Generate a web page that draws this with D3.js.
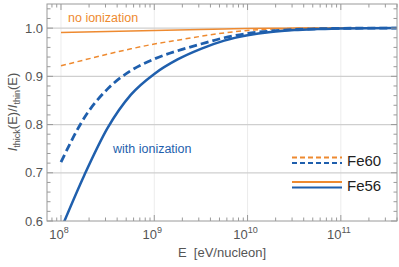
<!DOCTYPE html>
<html>
<head>
<meta charset="utf-8">
<script src="https://cdn.jsdelivr.net/npm/d3@7"></script>
<style>
  body { margin: 0; background: #fff; }
  text { font-family: "Liberation Sans", Arial, sans-serif; }
</style>
</head>
<body>
<div id="container"></div>
<script>
// log10(E) sample points
const logE = [8, 8.25, 8.5, 8.75, 9, 9.25, 9.5, 9.75, 10, 10.25, 10.5, 10.75, 11, 11.6]

const fe56Thin = [0.991, 0.992, 0.993, 0.994, 0.995, 0.996, 0.997, 0.998, 0.999, 0.9996, 1.0, 1.0, 1.0, 1.0]
const fe60Thin = [0.922, 0.934, 0.946, 0.957, 0.967, 0.975, 0.983, 0.990, 0.995, 0.998, 0.9993, 1.0, 1.0, 1.0]
const fe60Ion = [0.722, 0.814, 0.874, 0.912, 0.936, 0.953, 0.967, 0.980, 0.989, 0.994, 0.997, 0.9987, 0.9995, 1.0]
const fe56Ion = [0.583, 0.695, 0.793, 0.862, 0.905, 0.935, 0.957, 0.974, 0.985, 0.992, 0.996, 0.998, 0.9993, 1.0]

const xTicks = [8, 9, 10, 11]
const yTicks = [0.6, 0.7, 0.8, 0.9, 1.0]

const orange = '#ee8a30'
const blue = '#1f5fad'

const width = 399
const height = 267
const mLeft = 47, mRight = 397, mTop = 4, mBottom = 221

const xScale = d3.scaleLog().domain([Math.pow(10, 7.85), 4e11]).range([mLeft, mRight])
const yScale = d3.scaleLinear().domain([0.6, 1.05]).range([mBottom, mTop])

const svg = d3.select('#container').append('svg')
    .attr('width', width)
    .attr('height', height)

// grid
svg.selectAll('.vgrid')
    .data(xTicks)
    .enter()
    .append('line')
    .attr('x1', d => xScale(Math.pow(10, d)))
    .attr('x2', d => xScale(Math.pow(10, d)))
    .attr('y1', mTop).attr('y2', mBottom)
    .attr('stroke', '#ececec')
    .attr('stroke-width', 1)

svg.selectAll('.hgrid')
    .data(yTicks.slice(1))
    .enter()
    .append('line')
    .attr('x1', mLeft).attr('x2', mRight)
    .attr('y1', d => yScale(d)).attr('y2', d => yScale(d))
    .attr('stroke', '#cfcfcf')
    .attr('stroke-width', 1.2)

svg.append('clipPath').attr('id', 'clip')
    .append('rect').attr('x', mLeft).attr('y', mTop)
    .attr('width', mRight - mLeft).attr('height', mBottom - mTop)

const line = d3.line()
    .x((d, i) => xScale(Math.pow(10, logE[i])))
    .y(d => yScale(d))
    .curve(d3.curveMonotoneX)

const series = [
    {values: fe56Thin, color: orange, w: 1.5, dash: null},
    {values: fe60Thin, color: orange, w: 1.5, dash: '5,3.5'},
    {values: fe60Ion, color: blue, w: 2.8, dash: '8,4'},
    {values: fe56Ion, color: blue, w: 2.5, dash: null},
]

const g = svg.append('g').attr('clip-path', 'url(#clip)')
series.forEach(s => {
    g.append('path')
        .attr('d', line(s.values))
        .attr('fill', 'none')
        .attr('stroke', s.color)
        .attr('stroke-width', s.w)
        .attr('stroke-dasharray', s.dash)
})

// frame
svg.append('rect')
    .attr('x', mLeft).attr('y', mTop)
    .attr('width', mRight - mLeft).attr('height', mBottom - mTop)
    .attr('fill', 'none')
    .attr('stroke', '#9a9a9a')
    .attr('stroke-width', 1)

// ticks
const minorY = d3.range(0.6, 1.05, 0.02)
minorY.forEach(v => {
    const major = Math.abs(v * 10 - Math.round(v * 10)) < 1e-6
    const len = major ? 6 : 3.5
    const y = yScale(v)
    svg.append('line').attr('x1', mLeft).attr('x2', mLeft + len).attr('y1', y).attr('y2', y).attr('stroke', '#9a9a9a')
    svg.append('line').attr('x1', mRight).attr('x2', mRight - len).attr('y1', y).attr('y2', y).attr('stroke', '#9a9a9a')
})

const minorX = []
for (let e = 7; e <= 11; e++) {
    for (let m = 1; m < 10; m++) {
        const v = m * Math.pow(10, e)
        if (v >= xScale.domain()[0] && v <= xScale.domain()[1]) minorX.push({v: v, major: m === 1})
    }
}
minorX.forEach(t => {
    const x = xScale(t.v)
    const len = t.major ? 6 : 3.5
    svg.append('line').attr('x1', x).attr('x2', x).attr('y1', mBottom).attr('y2', mBottom - len).attr('stroke', '#9a9a9a')
    svg.append('line').attr('x1', x).attr('x2', x).attr('y1', mTop).attr('y2', mTop + len).attr('stroke', '#9a9a9a')
})

// tick labels
svg.selectAll('.ylab')
    .data(yTicks)
    .enter()
    .append('text')
    .attr('x', mLeft - 4)
    .attr('y', d => yScale(d) + 4.5)
    .attr('text-anchor', 'end')
    .attr('font-size', 13)
    .attr('fill', '#555')
    .text(d => d.toFixed(1))

xTicks.forEach(e => {
    const t = svg.append('text')
        .attr('x', xScale(Math.pow(10, e)) - 2)
        .attr('y', 239)
        .attr('text-anchor', 'middle')
        .attr('font-size', 13)
        .attr('fill', '#555')
    t.append('tspan').text('10')
    t.append('tspan').attr('dy', -6).attr('font-size', 9).text(e)
})

svg.append('text')
    .attr('x', 222).attr('y', 257)
    .attr('text-anchor', 'middle')
    .attr('font-size', 13)
    .attr('fill', '#555')
    .attr('xml:space', 'preserve')
    .text('E  [eV/nucleon]')

const yl = svg.append('text')
    .attr('transform', 'translate(17,' + 112 + ') rotate(-90)')
    .attr('text-anchor', 'middle')
    .attr('font-size', 13)
    .attr('fill', '#555')
yl.append('tspan').attr('font-style', 'italic').text('I')
yl.append('tspan').attr('font-size', 9).attr('dy', 3).text('thick')
yl.append('tspan').attr('dy', -3).text('(E)/')
yl.append('tspan').attr('font-style', 'italic').text('I')
yl.append('tspan').attr('font-size', 9).attr('dy', 3).text('thin')
yl.append('tspan').attr('dy', -3).text('(E)')

// annotations
svg.append('text')
    .attr('x', 68).attr('y', 22)
    .attr('font-size', 12.5)
    .attr('fill', orange)
    .text('no ionization')

svg.append('text')
    .attr('x', 113).attr('y', 153)
    .attr('font-size', 12.5)
    .attr('fill', blue)
    .text('with ionization')

// legend
const legend = [
    {label: 'Fe60', y: 157.5, dash: '5,3'},
    {label: 'Fe56', y: 182, dash: null},
]
legend.forEach(l => {
    svg.append('line').attr('x1', 292).attr('x2', 342)
        .attr('y1', l.y).attr('y2', l.y)
        .attr('stroke', orange).attr('stroke-width', 2)
        .attr('stroke-dasharray', l.dash)
    svg.append('line').attr('x1', 292).attr('x2', 342)
        .attr('y1', l.y + 5.5).attr('y2', l.y + 5.5)
        .attr('stroke', blue).attr('stroke-width', 2)
        .attr('stroke-dasharray', l.dash)
    svg.append('text')
        .attr('x', 347).attr('y', l.y + 8.5)
        .attr('font-size', 15)
        .attr('fill', '#222')
        .text(l.label)
})
</script>
</body>
</html>
